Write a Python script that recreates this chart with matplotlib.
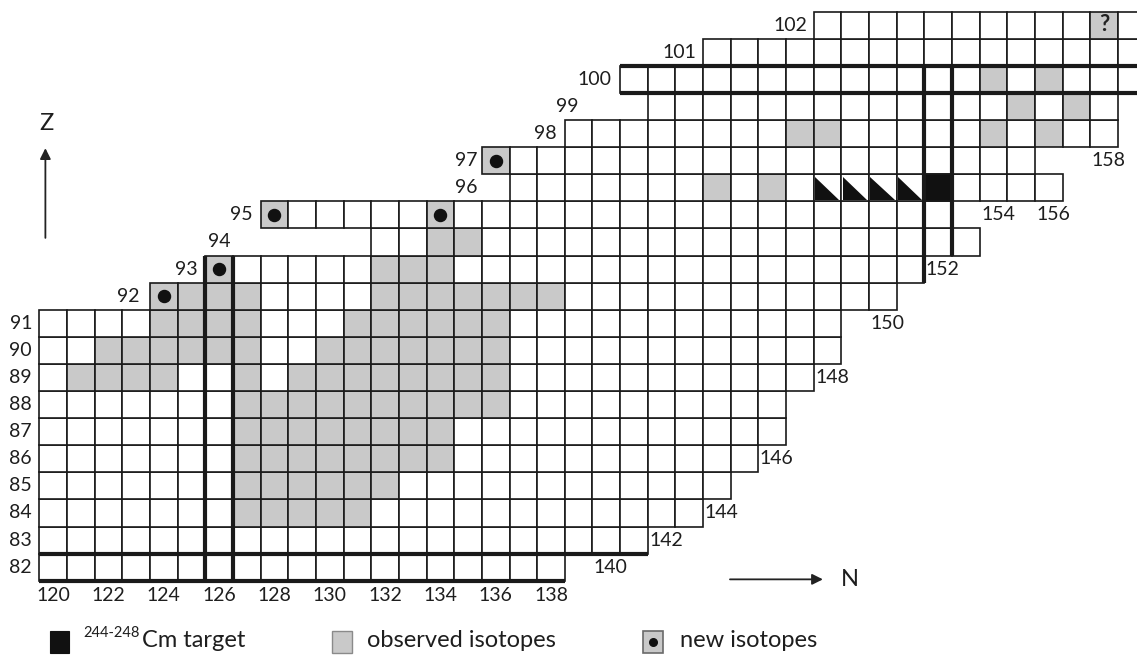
import matplotlib.pyplot as plt
from matplotlib.patches import Rectangle, Polygon

plt.rcParams['font.family'] = ['Lato', 'DejaVu Sans']

# rows of the chart: first and last neutron number per proton number
z_rows = [82, 83, 84, 85, 86, 87, 88, 89, 90, 91, 92, 93, 94, 95, 96, 97, 98, 99, 100, 101, 102]
n_first = [120, 120, 120, 120, 120, 120, 120, 120, 120, 120, 124, 126, 132, 128, 137, 136, 139, 142, 141, 144, 148]
n_last = [138, 141, 143, 144, 145, 146, 146, 147, 148, 148, 150, 151, 153, 152, 156, 155, 158, 158, 159, 159, 159]

# observed isotopes (grey), as runs inside a row
obs_z = [84, 85, 86, 87, 88, 89, 89, 89, 90, 90, 91, 91, 92, 92, 93, 93, 94, 95, 95,
         96, 96, 97, 98, 98, 98, 99, 99, 100, 100, 102]
obs_from = [127, 127, 127, 127, 127, 121, 127, 129, 122, 130, 124, 131, 124, 132, 126, 132, 134, 128, 134,
            144, 146, 136, 147, 154, 156, 155, 157, 154, 156, 158]
obs_to = [131, 132, 134, 134, 136, 124, 127, 136, 127, 136, 127, 136, 127, 138, 126, 134, 135, 128, 134,
          144, 146, 136, 148, 154, 156, 155, 157, 154, 156, 158]

# new isotopes
new_n = [124, 126, 128, 134, 136]
new_z = [92, 93, 95, 95, 97]

# Cm target and triangles
target_n = [152]
target_z = [96]
tri_n = [148, 149, 150, 151]
tri_z = [96, 96, 96, 96]

unknown_n = 158
unknown_z = 102

# labels
n_ticks = [120, 122, 124, 126, 128, 130, 132, 134, 136, 138]
left_z = [82, 83, 84, 85, 86, 87, 88, 89, 90, 91]
stair_n = [140, 142, 144, 146, 148, 150, 152, 154, 156, 158]
stair_z = [82, 83, 84, 86, 89, 91, 93, 95, 95, 97]
upper_z = [92, 93, 95, 96, 97, 98, 99, 100, 101, 102]
upper_x = [123.14, 125.24, 127.23, 135.36, 135.36, 138.21, 139.0, 140.19, 143.24, 147.25]

line_c = '#1a1a1a'
grey = '#c9c9c9'
txt_c = '#1e1e1e'

fig = plt.figure(figsize=(11.37, 6.58), dpi=100)
ax = fig.add_axes([0, 0, 1, 1])
ax.set_xlim(118.079, 159.186)
ax.set_ylim(78.648, 102.928)
ax.axis('off')

obs_cells = set()
for z, a, b in zip(obs_z, obs_from, obs_to):
    for n in range(a, b + 1):
        obs_cells.add((n, z))

for z, a, b in zip(z_rows, n_first, n_last):
    for n in range(a, b + 1):
        fc = grey if (n, z) in obs_cells else 'white'
        ax.add_patch(Rectangle((n - 0.5, z - 0.5), 1, 1, facecolor=fc,
                               edgecolor=line_c, lw=1.2, zorder=1))

for n, z in zip(target_n, target_z):
    ax.add_patch(Rectangle((n - 0.5, z - 0.5), 1, 1, facecolor='#111111',
                           edgecolor=line_c, lw=1.2, zorder=2))

for n, z in zip(tri_n, tri_z):
    ax.add_patch(Polygon([(n - 0.45, z + 0.38), (n - 0.45, z - 0.45), (n + 0.42, z - 0.45)],
                         closed=True, facecolor='#111111', edgecolor='none', zorder=2))

ax.scatter(new_n, new_z, s=75, color='#111111', zorder=4)

ax.text(unknown_n, unknown_z + 0.02, '?', ha='center', va='center',
        fontsize=16, fontweight='bold', color='#222222', zorder=4)

# magic number lines
thick = dict(color=line_c, lw=3.0, solid_capstyle='butt', zorder=3)
ax.plot([119.5, 141.5], [82.5, 82.5], **thick)
ax.plot([119.5, 138.5], [81.5, 81.5], **thick)
ax.plot([125.5, 125.5], [81.5, 93.5], **thick)
ax.plot([126.5, 126.5], [81.5, 93.5], **thick)
ax.plot([140.5, 160], [99.5, 99.5], **thick)
ax.plot([140.5, 160], [100.5, 100.5], **thick)
ax.plot([151.5, 151.5], [92.5, 100.5], **thick)
ax.plot([152.5, 152.5], [93.5, 100.5], **thick)

fs = 14
for n in n_ticks:
    ax.text(n, 80.95, str(n), ha='center', va='center', fontsize=fs, color=txt_c)
for z in left_z:
    ax.text(119.24, z, str(z), ha='right', va='center', fontsize=fs, color=txt_c)
for z, x in zip(upper_z, upper_x):
    ax.text(x, z, str(z), ha='right', va='center', fontsize=fs, color=txt_c)
ax.text(126.0, 94, '94', ha='center', va='center', fontsize=fs, color=txt_c)
for n, z in zip(stair_n, stair_z):
    ax.text(n - 0.45, z, str(n), ha='left', va='center', fontsize=fs, color=txt_c)

# axis arrows
arrow = dict(arrowstyle='-|>', lw=1.3, color='#222222', mutation_scale=16, shrinkA=0, shrinkB=0)
ax.annotate('', xy=(119.72, 97.46), xytext=(119.72, 94.15), arrowprops=arrow)
ax.text(119.76, 98.37, 'Z', ha='center', va='center', fontsize=17, color=txt_c)
ax.annotate('', xy=(147.83, 81.55), xytext=(144.47, 81.55), arrowprops=arrow)
ax.text(148.81, 81.53, 'N', ha='center', va='center', fontsize=17, color=txt_c)

# legend
lw_y0, lh = 78.83, 0.81
ax.add_patch(Rectangle((119.887, lw_y0), 0.7, lh, facecolor='#111111', edgecolor='#111111', lw=0.8))
ax.text(121.1, 79.43, '244-248', ha='left', va='baseline', fontsize=10.5, color=txt_c)
ax.text(123.21, 79.05, 'Cm target', ha='left', va='baseline', fontsize=17, color=txt_c)
ax.add_patch(Rectangle((130.08, lw_y0), 0.74, lh, facecolor=grey, edgecolor='#8a8a8a', lw=1.0))
ax.text(131.35, 79.05, 'observed isotopes', ha='left', va='baseline', fontsize=17, color=txt_c)
ax.add_patch(Rectangle((141.33, lw_y0), 0.72, lh, facecolor=grey, edgecolor='#6a6a6a', lw=1.2))
ax.scatter([141.69], [lw_y0 + lh / 2], s=30, color='#111111', zorder=4)
ax.text(142.67, 79.05, 'new isotopes', ha='left', va='baseline', fontsize=17, color=txt_c)

fig.savefig('out.png', dpi=100)
